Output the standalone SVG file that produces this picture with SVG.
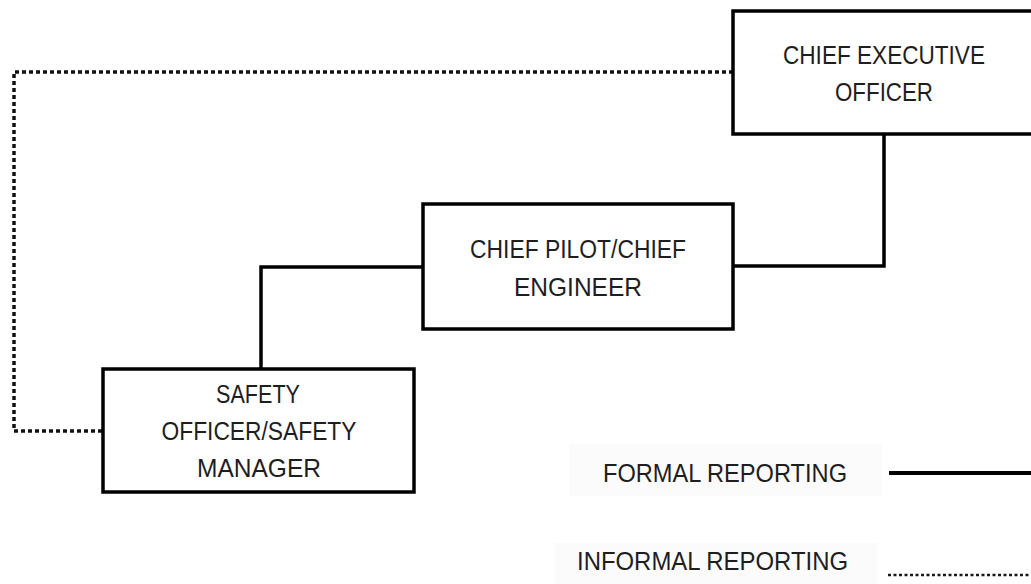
<svg xmlns="http://www.w3.org/2000/svg" width="1031" height="584" viewBox="0 0 1031 584">
  <style>
    .box { fill: #ffffff; stroke: #000000; stroke-width: 3.5; }
    .lbl { font-family: "Liberation Sans", Arial, sans-serif; font-size: 25.5px; fill: #1e1e1e; text-anchor: middle; }
    .leg { font-family: "Liberation Sans", Arial, sans-serif; font-size: 25.5px; fill: #1e1e1e; }
    .formal { fill: none; stroke: #000000; stroke-width: 3.5; }
    .informal { fill: none; stroke: #111111; stroke-width: 3.5; stroke-dasharray: 4 3; }
    .legbg { fill: #fbfbfb; }
  </style>
  <rect width="1031" height="584" fill="#ffffff"/>

  <g id="connectors">
    <path class="formal" d="M884,134 V266 H733"/>
    <path class="formal" d="M423,267 H261 V369"/>
    <path class="informal" d="M733,72 H14 V431 H103"/>
  </g>

  <g id="ceo">
    <rect class="box" x="733" y="11" width="310" height="123"/>
    <text class="lbl" x="884" y="64" textLength="202" lengthAdjust="spacingAndGlyphs">CHIEF EXECUTIVE</text>
    <text class="lbl" x="884" y="101" textLength="98" lengthAdjust="spacingAndGlyphs">OFFICER</text>
  </g>

  <g id="chief-pilot">
    <rect class="box" x="423" y="204" width="310" height="125"/>
    <text class="lbl" x="578" y="258" textLength="216" lengthAdjust="spacingAndGlyphs">CHIEF PILOT/CHIEF</text>
    <text class="lbl" x="578" y="296" textLength="128" lengthAdjust="spacingAndGlyphs">ENGINEER</text>
  </g>

  <g id="safety-officer">
    <rect class="box" x="103" y="369" width="311" height="123"/>
    <text class="lbl" x="258" y="403" textLength="84" lengthAdjust="spacingAndGlyphs">SAFETY</text>
    <text class="lbl" x="259" y="440" textLength="195" lengthAdjust="spacingAndGlyphs">OFFICER/SAFETY</text>
    <text class="lbl" x="259" y="477" textLength="124" lengthAdjust="spacingAndGlyphs">MANAGER</text>
  </g>

  <g id="legend-formal">
    <rect class="legbg" x="569" y="444" width="313" height="52"/>
    <text class="leg" x="603" y="482" textLength="244" lengthAdjust="spacingAndGlyphs">FORMAL REPORTING</text>
    <line x1="889" y1="473" x2="1031" y2="473" stroke="#000000" stroke-width="4"/>
  </g>

  <g id="legend-informal">
    <rect class="legbg" x="555" y="543" width="322" height="41"/>
    <text class="leg" x="577" y="570" textLength="271" lengthAdjust="spacingAndGlyphs">INFORMAL REPORTING</text>
    <line x1="888" y1="575" x2="1031" y2="575" stroke="#1a1a1a" stroke-width="2.5" stroke-dasharray="3 2.5"/>
  </g>
</svg>
